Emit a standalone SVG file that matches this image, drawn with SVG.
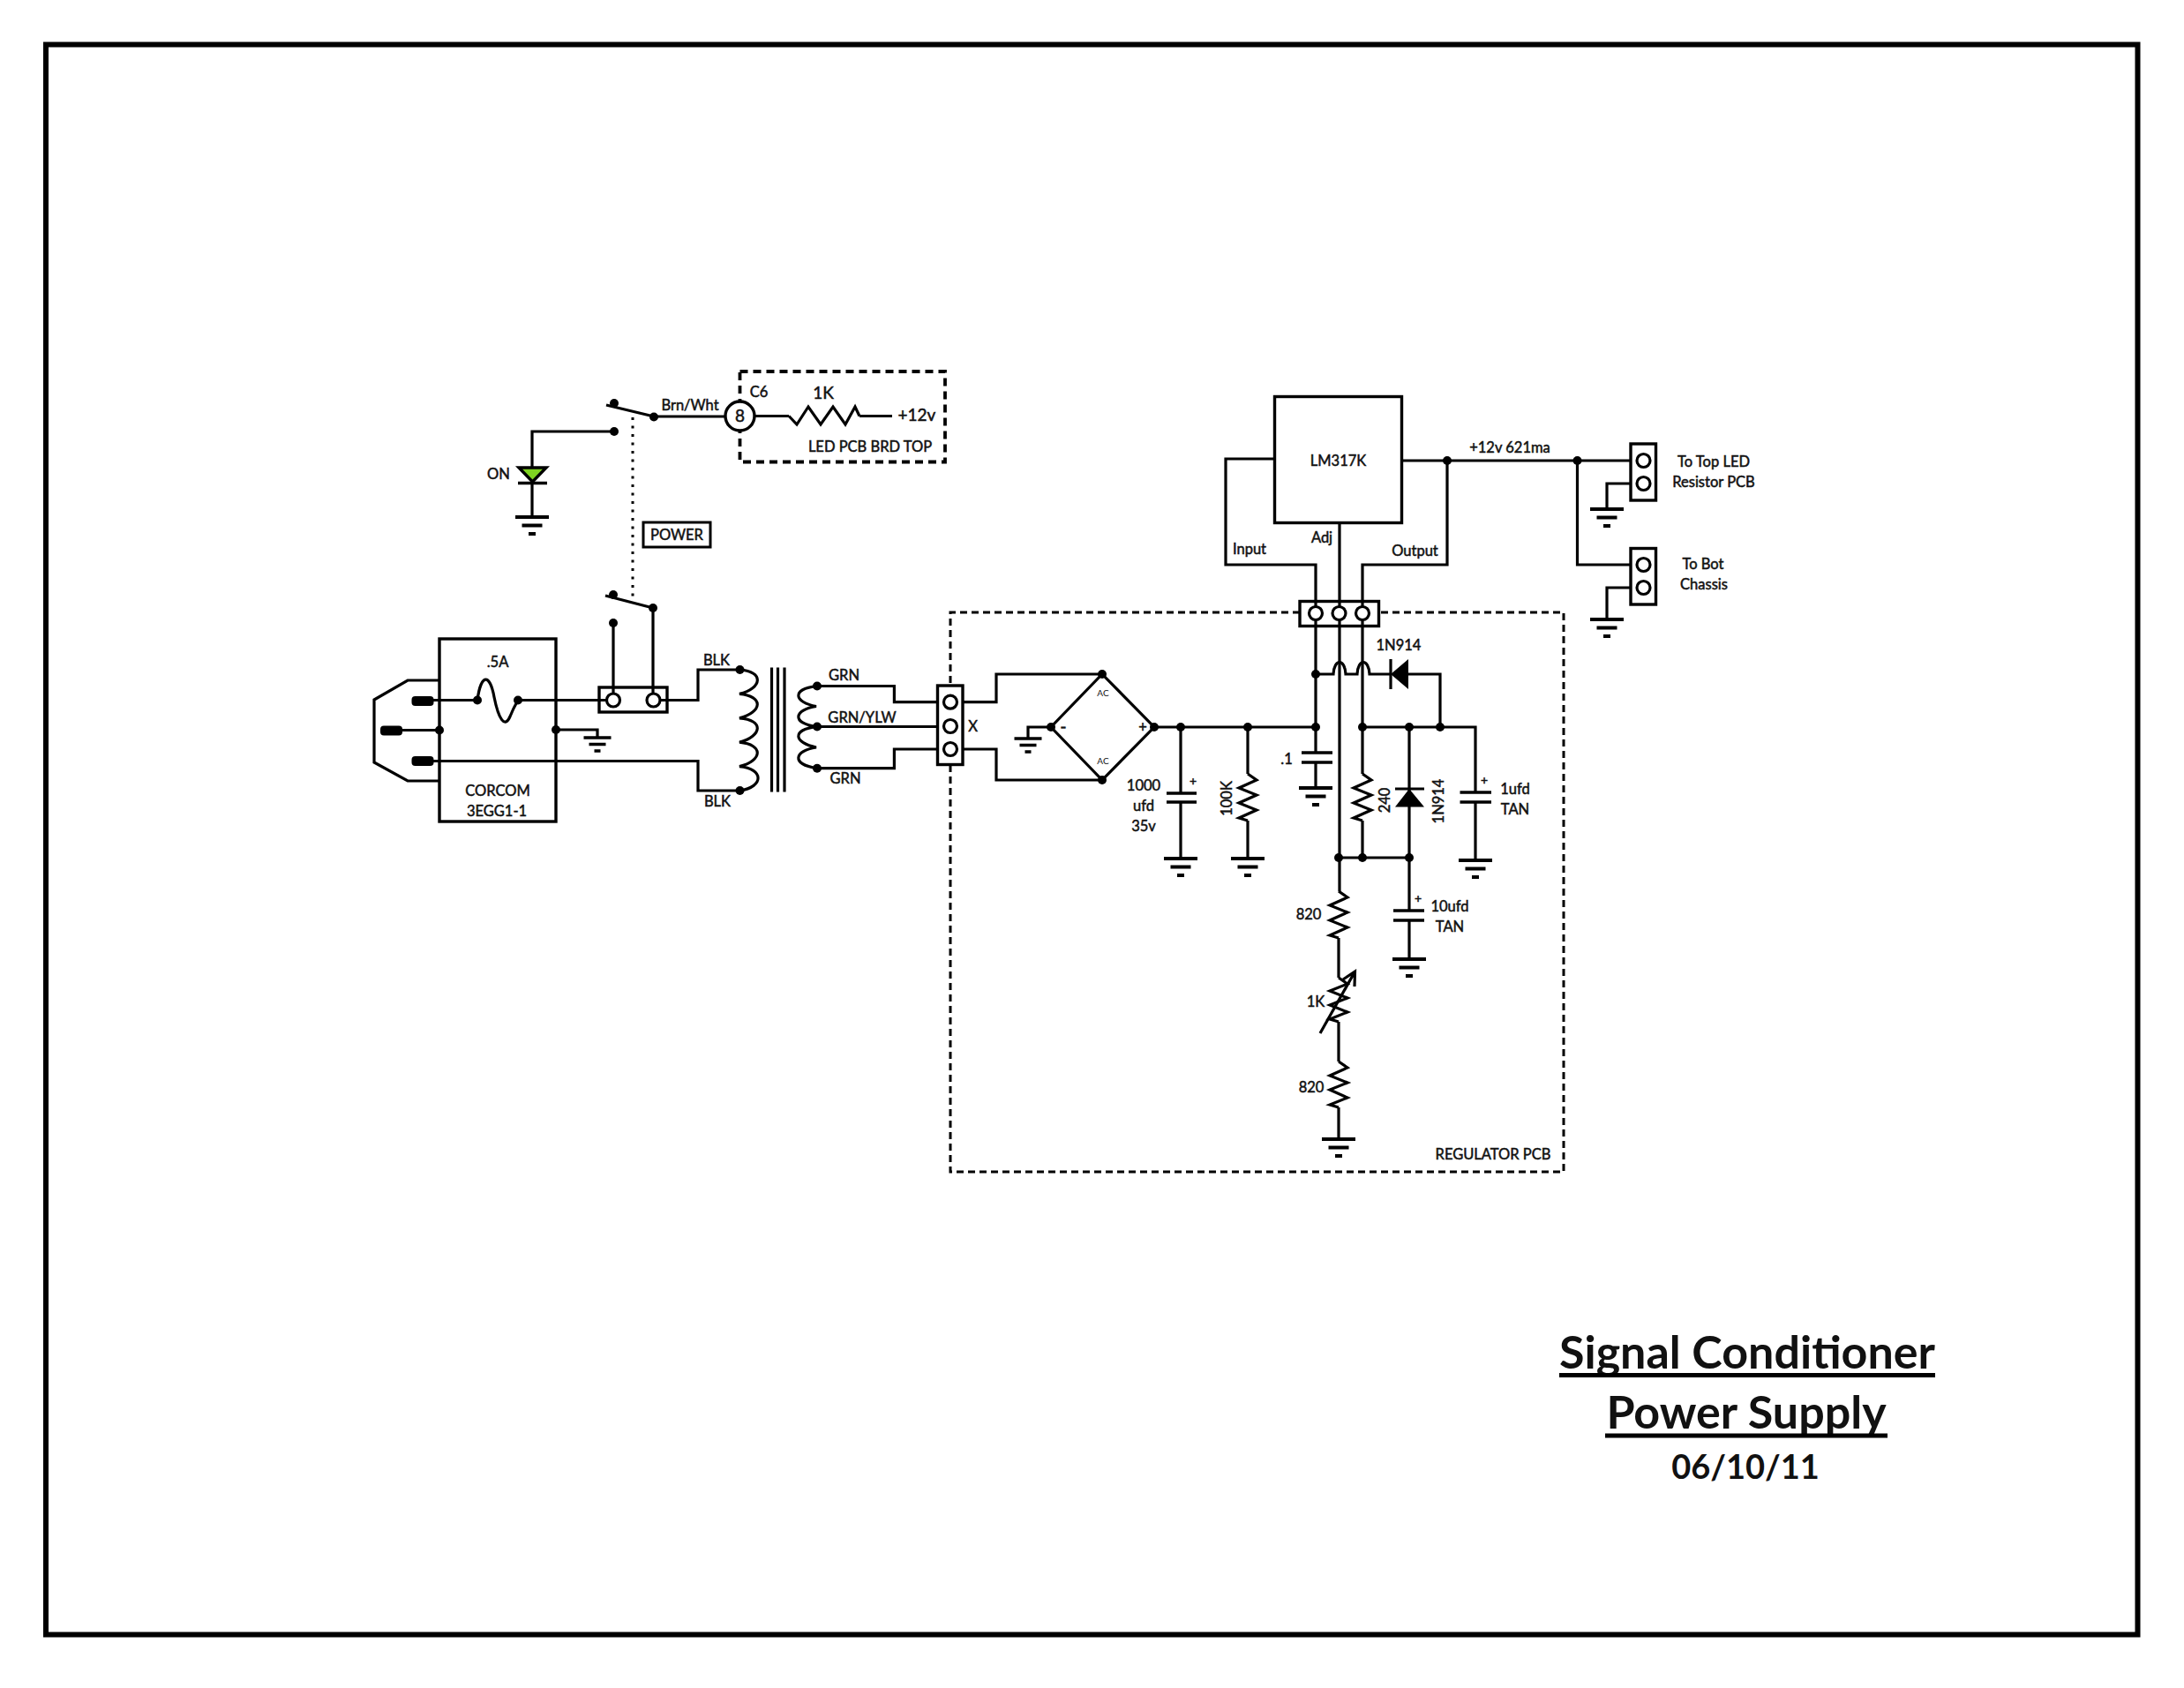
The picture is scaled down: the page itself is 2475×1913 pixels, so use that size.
<svg xmlns="http://www.w3.org/2000/svg" width="2475" height="1913" viewBox="0 0 2475 1913">
<defs>
<style>
.w{fill:none;stroke:#000;stroke-width:3.2;stroke-linejoin:miter}
.t{fill:none;stroke:#000;stroke-width:3.4}
.d{fill:#000}
.o{fill:#fff;stroke:#000;stroke-width:3.2}
text{font-family:"Lato","Carlito","Open Sans","Liberation Sans",sans-serif;font-size:16.500px;font-weight:400;text-anchor:middle;fill:#111;stroke:#111;stroke-width:.5}
.ttl{font-size:52px;font-weight:700;stroke:none}
</style>
<g id="gnd"><path d="M-19 0H19M-11.500 9.500H11.500M-4 19H4" fill="none" stroke="#000" stroke-width="3.800"/></g>
<g id="gnds"><path d="M-15.500 0H15.500M-9.500 7.500H9.500M-3.500 15H3.500" fill="none" stroke="#000" stroke-width="3.400"/></g>
<circle id="dot" r="5"/>
</defs>
<rect id="frame" x="52" y="50.500" width="2370.500" height="1802" fill="none" stroke="#000" stroke-width="6"/>
<g id="connectors" class="w">
<path d="M696 489H603V586"/>
<path d="M741 472H822M855 471.500H894M974 471.500H1011"/>
<path d="M717 473V678" stroke-width="3" stroke-dasharray="3 6.500"/>
<path d="M695 706V786M740 689V786"/>
<path d="M478 793.500H541M587 793.500H687M748 793.500H791V759H838.500"/>
<path d="M455 827.500H498M630 827H677V836"/>
<path d="M491 862.500H791V896H838.500"/>
<path d="M926 777.500H1013.400V795.700H1069M926 823.500H1069M926 870.700H1013.400V849H1069"/>
<path d="M1085 795.700H1129V764H1249M1085 849H1129V884H1249"/>
<path d="M1165 837V824H1191M1308 824H1491"/>
<path d="M1338 824V899M1338 909V973"/>
<path d="M1414 824V877M1414 930V973"/>
<path d="M1491 703V853M1491 864V893"/>
<path d="M1491 764H1511C1512 746 1524 746 1525 764H1538C1539 746 1551 746 1552 764H1576M1596 764H1632V824"/>
<path d="M1518 703V1010M1544 703V877M1544 930V972"/>
<path d="M1544 824H1672V898M1672 909V975"/>
<path d="M1518 972H1597M1597 824V1032M1597 1043V1087"/>
<path d="M1517 1063V1108M1517 1158V1203M1517 1255V1291"/>
<path d="M1445 520H1389V640H1491V688M1518 593V688M1544 688V640H1640V522"/>
<path d="M1588 522H1855M1787.500 522V640H1855M1855 548H1821V577M1855 666H1821V702"/>
</g>
<g id="frame-title">
<text class="ttl" x="1980" y="1551">Signal Conditioner</text>
<rect x="1767" y="1556" width="426" height="5"/>
<text class="ttl" x="1979" y="1619">Power Supply</text>
<rect x="1819" y="1624.500" width="320" height="5"/>
<text x="1978" y="1676" style="font-size:38px;font-weight:700;stroke:none">06/10/11</text>
</g>
<g id="switch-top" class="d">
<use href="#dot" x="696" y="457"/><use href="#dot" x="741" y="472.500"/><use href="#dot" x="696" y="489"/>
<path class="w" d="M687 459L741 472"/>
</g>
<g id="switch-bottom" class="d">
<use href="#dot" x="695" y="674"/><use href="#dot" x="740" y="689"/><use href="#dot" x="695" y="706"/>
<path class="w" d="M686 675L740 689"/>
</g>
<g id="led">
<path d="M588 530H619L603.500 546Z" fill="#7ed321" stroke="#000" stroke-width="3.400"/>
<path class="t" d="M587 547.500H620"/>
<text x="565" y="543">ON</text>
<use href="#gnd" x="603" y="586"/>
</g>
<text id="lbl-brn" x="782" y="465">Brn/Wht</text>
<g id="led-pcb">
<rect x="838.500" y="421" width="232.500" height="102.500" fill="none" stroke="#000" stroke-width="3.800" stroke-dasharray="9 6"/>
<circle cx="838.500" cy="471.500" r="16.500" fill="#fff" stroke="#000" stroke-width="3.400"/>
<text x="838.500" y="478" style="font-size:19px">8</text>
<text x="860" y="450">C6</text>
<text x="933" y="452" style="font-size:19px">1K</text>
<polyline class="w" points="894,471.500 903,481 916,461 930,481 944,461 958,481 969,461 974,471.500"/>
<text x="1039" y="477" style="font-size:19px">+12v</text>
<text x="986" y="512">LED PCB BRD TOP</text>
</g>
<g id="power">
<rect x="729" y="592" width="76" height="28" fill="#fff" stroke="#000" stroke-width="3"/>
<text x="767" y="612">POWER</text>
</g>
<g id="corcom">
<rect x="498" y="724" width="132" height="207" fill="none" stroke="#000" stroke-width="3.400"/>
<path class="w" d="M498 771H462L424 793V864L462 885H498"/>
<rect x="466.500" y="789" width="25" height="11" rx="4"/><rect x="431" y="822.500" width="25" height="11" rx="4"/><rect x="466.500" y="857" width="25" height="11" rx="4"/>
<path class="w" d="M541 793.500C545 763 555 763 560 790C565 815 572 826 578 812C582 802 585 797 587 793.500"/>
<use href="#dot" x="541" y="793.500"/><use href="#dot" x="587" y="793.500"/><use href="#dot" x="498" y="827.500"/><use href="#dot" x="630" y="827"/>
<text x="564" y="756">.5A</text>
<text x="564" y="902">CORCOM</text>
<text x="563" y="925">3EGG1-1</text>
<use href="#gnds" x="677" y="836"/>
</g>
<g id="terminal-1">
<rect x="679" y="779" width="77" height="28" fill="#fff" stroke="#000" stroke-width="3.400"/>
<path class="w" d="M695 779V786M740 779V786M679 793.500H687M748 793.500H756"/>
<circle class="o" cx="695" cy="793.500" r="7.500"/><circle class="o" cx="740.500" cy="793.500" r="7.500"/>
</g>
<g id="transformer">
<path class="w" d="M838.500 759C866 761 864 780 838 786.400C866 789 864 807 838 813.800C866 816 864 834 838 841.200C866 844 864 862 838 868.600C866 871 866 892 838.500 896"/>
<path class="w" stroke-width="3" d="M874.500 756.500V897.500M881.500 756.500V897.500M889 756.500V897.500"/>
<path class="w" d="M926 777.500C896 781 900 796 925 800.500C900 804 896 820 926 823.500C896 827 900 842 925 847C900 851 896 866 926 870.700"/>
<use href="#dot" x="838.500" y="759"/><use href="#dot" x="838.500" y="896"/><use href="#dot" x="926" y="777.500"/><use href="#dot" x="926" y="823.500"/><use href="#dot" x="926" y="870.700"/>
<text x="812" y="753.500">BLK</text>
<text x="813" y="914">BLK</text>
<text x="956.500" y="771">GRN</text>
<text x="977" y="818.500">GRN/YLW</text>
<text x="958" y="887.500">GRN</text>
</g>
<g id="regulator-pcb">
<path d="M1473 694H1077V776M1077 867V1328H1772V694H1564" fill="none" stroke="#000" stroke-width="3" stroke-dasharray="8 5"/>
<text x="1692" y="1314">REGULATOR PCB</text>
</g>
<g id="terminal-2">
<rect x="1062.500" y="777" width="28.500" height="89.500" fill="#fff" stroke="#000" stroke-width="3.400"/>
<circle class="o" cx="1077" cy="795.700" r="7.500"/><circle class="o" cx="1077" cy="823" r="7.500"/><circle class="o" cx="1077" cy="849" r="7.500"/>
<text x="1102.500" y="829">X</text>
</g>
<g id="bridge">
<path class="w" d="M1249 764L1308 824L1249 884L1191 824Z"/>
<use href="#dot" x="1249" y="764"/><use href="#dot" x="1249" y="884"/><use href="#dot" x="1191" y="824"/><use href="#dot" x="1308" y="824"/>
<text x="1250" y="789" style="font-size:10px;stroke:none">AC</text>
<text x="1250" y="866" style="font-size:10px;stroke:none">AC</text>
<text x="1205" y="830" style="font-size:20px">-</text>
<text x="1295" y="829.500">+</text>
<use href="#gnds" x="1165" y="837"/>
</g>
<g id="c1000">
<path class="t" d="M1322 899H1356M1322 909H1356"/>
<use href="#dot" x="1338" y="824"/><use href="#gnd" x="1338" y="973"/>
<text x="1352" y="890" style="font-size:14px">+</text>
<text x="1296" y="896">1000</text><text x="1296" y="919">ufd</text><text x="1296" y="942">35v</text>
</g>
<g id="r100k">
<polyline class="w" points="1414,877 1424,884 1404,893 1424,901 1404,910 1424,918 1404,927 1414,930"/>
<use href="#dot" x="1414" y="824"/><use href="#gnd" x="1414" y="973"/>
<text transform="translate(1396 905) rotate(-90)">100K</text>
</g>
<g id="c01">
<path class="t" d="M1475 853H1510M1475 864H1510"/>
<use href="#dot" x="1491" y="824"/><use href="#dot" x="1491" y="764"/><use href="#gnd" x="1491" y="893"/>
<text x="1458" y="866">.1</text>
</g>
<g id="lm317k">
<rect x="1444.500" y="449.500" width="144" height="143" fill="#fff" stroke="#000" stroke-width="3.400"/>
<text x="1516.500" y="528">LM317K</text>
<text x="1498" y="615">Adj</text>
<text x="1416" y="628">Input</text>
<text x="1603.500" y="630">Output</text>
</g>
<g id="terminal-3">
<rect x="1473" y="681.500" width="89.500" height="28" fill="#fff" stroke="#000" stroke-width="3.400"/>
<path class="w" d="M1491 681.500V688M1518 681.500V688M1544 681.500V688M1491 703V709.500M1518 703V709.500M1544 703V709.500"/>
<circle class="o" cx="1491" cy="695" r="7.500"/><circle class="o" cx="1517.500" cy="695" r="7.500"/><circle class="o" cx="1544" cy="695" r="7.500"/>
</g>
<g id="d1">
<path d="M1576 764L1596 747V781Z"/><path class="w" d="M1576 747V781"/>
<text x="1585" y="737">1N914</text>
<use href="#dot" x="1632" y="824"/>
</g>
<g id="r240">
<polyline class="w" points="1544,877 1554,884 1534,893 1554,901 1534,910 1554,918 1534,927 1544,930"/>
<use href="#dot" x="1544" y="824"/><use href="#dot" x="1544" y="972"/>
<text transform="translate(1575 907) rotate(-90)">240</text>
</g>
<g id="d2">
<path d="M1597 894L1581 914.500H1614Z"/><path class="w" d="M1581 894H1614"/>
<use href="#dot" x="1597" y="824"/><use href="#dot" x="1597" y="972"/>
<text transform="translate(1636 908) rotate(-90)">1N914</text>
</g>
<g id="c1u">
<path class="t" d="M1654.500 898H1690M1654.500 909H1690"/>
<use href="#gnd" x="1672" y="975"/>
<text x="1682" y="889" style="font-size:14px">+</text>
<text x="1717" y="900">1ufd</text><text x="1717" y="923">TAN</text>
</g>
<g id="c10u">
<path class="t" d="M1579 1032H1614M1579 1043H1614"/>
<use href="#gnd" x="1597" y="1087"/>
<text x="1607" y="1023" style="font-size:14px">+</text>
<text x="1643" y="1033">10ufd</text><text x="1643" y="1056">TAN</text>
</g>
<g id="r820a">
<polyline class="w" points="1517,1010 1527,1017 1507,1026 1527,1034 1507,1043 1527,1051 1507,1060 1517,1063"/>
<use href="#dot" x="1517" y="972"/>
<text x="1483" y="1042">820</text>
</g>
<g id="pot">
<polyline class="w" points="1517,1108 1527,1115 1507,1123 1527,1131 1507,1139 1527,1147 1507,1155 1517,1158"/>
<path class="w" d="M1496 1171L1535.500 1101M1522 1110L1535.500 1101L1535 1118"/>
<text x="1491" y="1141">1K</text>
</g>
<g id="r820b">
<polyline class="w" points="1517,1203 1527,1210 1507,1219 1527,1227 1507,1235 1527,1244 1507,1252 1517,1255"/>
<use href="#gnd" x="1517" y="1291"/>
<text x="1486" y="1238">820</text>
</g>
<text id="lbl-out" x="1711" y="512.500">+12v 621ma</text>
<g id="dots-out"><use href="#dot" x="1640" y="522"/><use href="#dot" x="1787.500" y="522"/></g>
<g id="conn-top">
<rect x="1848" y="503" width="28.500" height="64" fill="#fff" stroke="#000" stroke-width="3.400"/>
<circle class="o" cx="1862.500" cy="522" r="7.500"/><circle class="o" cx="1862.500" cy="548" r="7.500"/>
<use href="#gnd" x="1821" y="577"/>
<text x="1942" y="529">To Top LED</text><text x="1942" y="552">Resistor PCB</text>
</g>
<g id="conn-bot">
<rect x="1848" y="621.500" width="28.500" height="63.500" fill="#fff" stroke="#000" stroke-width="3.400"/>
<circle class="o" cx="1862.500" cy="640" r="7.500"/><circle class="o" cx="1862.500" cy="666" r="7.500"/>
<use href="#gnd" x="1821" y="702"/>
<text x="1930" y="645">To Bot</text><text x="1931" y="668">Chassis</text>
</g>
</svg>
